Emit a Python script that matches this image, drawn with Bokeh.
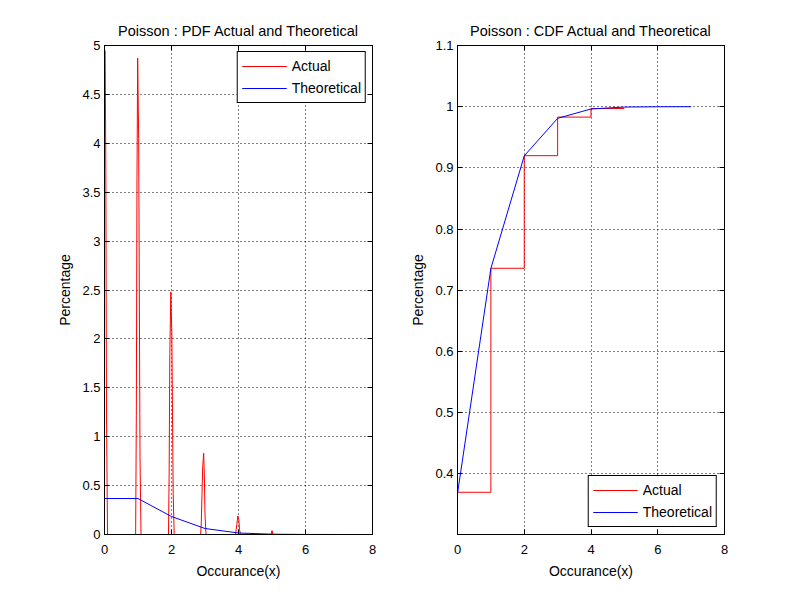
from bokeh.plotting import figure
from bokeh.models import LinearAxis, FixedTicker, Legend, LegendItem
from bokeh.layouts import row
from bokeh.embed import file_html
from bokeh.resources import INLINE

nan = float("nan")

# occurrences and theoretical poisson (lambda = 1) values
occ = [0, 1, 2, 3, 4, 5, 6, 7]
pdf_theory = [0.3679, 0.3679, 0.1839, 0.0613, 0.0153, 0.0031, 0.0005, 0.0001]
cdf_theory = [0.3679, 0.7358, 0.9197, 0.9810, 0.9963, 0.9994, 0.9999, 1.0]

# actual density (spikes around every integer)
pdf_x = [0.02, 0.04, 0.06, 0.09, nan,
         0.93, 0.95, 0.97, 0.99, 1.02, 1.04, 1.06, 1.09, nan,
         1.91, 1.93, 1.95, 1.98, 2.01, 2.03, 2.05, 2.08, nan,
         2.87, 2.89, 2.91, 2.93, 2.96, 2.98, 3.00, 3.03, nan,
         3.91, 3.93, 3.95, 3.98, 4.01, 4.03, 4.06, nan,
         4.97, 5.00, 5.03]
pdf_y = [4.95, 3.70, 1.22, 0.0, nan,
         0.0, 1.22, 3.65, 4.87, 4.05, 2.45, 0.80, 0.0, nan,
         0.0, 0.62, 1.85, 2.48, 2.05, 1.22, 0.42, 0.0, nan,
         0.0, 0.13, 0.41, 0.68, 0.83, 0.61, 0.20, 0.0, nan,
         0.0, 0.05, 0.10, 0.19, 0.15, 0.05, 0.0, nan,
         0.0, 0.04, 0.0]

# actual cdf (stairs)
cdf_x = [0, 1, 2, 3, 4, 5]
cdf_y = [0.37, 0.736, 0.92, 0.983, 0.997, 0.997]

x_ticks = [0, 2, 4, 6, 8]
pdf_ticks = [0, 0.5, 1, 1.5, 2, 2.5, 3, 3.5, 4, 4.5, 5]
cdf_ticks = [0.4, 0.5, 0.6, 0.7, 0.8, 0.9, 1.0, 1.1]

FONT = "Liberation Sans"


def style(p, yticks):
    p.title.text_font = FONT
    p.title.text_font_size = "14.5px"
    p.title.text_font_style = "normal"
    p.title.text_color = "black"
    p.title.align = "center"
    p.title.standoff = 13
    p.outline_line_color = "black"
    p.outline_line_alpha = 1
    p.background_fill_color = "white"
    p.border_fill_color = "white"
    for g in p.grid:
        g.grid_line_color = "black"
        g.grid_line_dash = "1 3"
        g.grid_line_width = 1
    p.xgrid.ticker = FixedTicker(ticks=x_ticks)
    p.ygrid.ticker = FixedTicker(ticks=yticks)
    p.xaxis.ticker = FixedTicker(ticks=x_ticks)
    p.yaxis.ticker = FixedTicker(ticks=yticks)
    p.yaxis.major_label_overrides = {t: "%g" % t for t in yticks}
    p.xaxis.major_label_overrides = {t: "%g" % t for t in x_ticks}
    for ax in [p.xaxis[0], p.yaxis[0]]:
        ax.axis_line_color = "black"
        ax.major_tick_line_color = "black"
        ax.major_tick_in = 5
        ax.major_tick_out = 0
        ax.minor_tick_line_color = None
        ax.major_label_text_font = FONT
        ax.major_label_text_font_size = "13px"
        ax.major_label_text_color = "black"
        ax.axis_label_text_font = FONT
        ax.axis_label_text_font_size = "14px"
        ax.axis_label_text_font_style = "normal"
        ax.axis_label_text_color = "black"
    p.xaxis.major_label_standoff = 10
    p.xaxis.axis_label_standoff = 6
    p.yaxis.major_label_standoff = 4
    p.yaxis.axis_label_standoff = 6
    # ticks on the top and right side like a box, no labels there
    top = LinearAxis(ticker=FixedTicker(ticks=x_ticks),
                     major_label_overrides={t: "" for t in x_ticks},
                     major_tick_in=5, major_tick_out=0, minor_tick_line_color=None,
                     axis_line_color="black", major_label_standoff=0)
    right = LinearAxis(ticker=FixedTicker(ticks=yticks),
                       major_label_overrides={t: "" for t in yticks},
                       major_tick_in=5, major_tick_out=0, minor_tick_line_color=None,
                       axis_line_color="black", major_label_standoff=0)
    p.add_layout(top, "above")
    p.add_layout(right, "right")


def legend(p, items, loc, margin):
    lg = Legend(items=items, location=loc)
    lg.margin = margin
    lg.padding = 4
    lg.spacing = 2
    lg.glyph_width = 45
    lg.glyph_height = 20
    lg.label_height = 20
    lg.label_standoff = 5
    lg.label_text_font = FONT
    lg.label_text_font_size = "14px"
    lg.label_text_color = "black"
    lg.border_line_color = "black"
    lg.border_line_width = 1
    lg.border_line_alpha = 1
    lg.background_fill_alpha = 1
    p.add_layout(lg, "center")


p1 = figure(width=392, height=584, x_range=(0, 8), y_range=(0, 5),
            title="Poisson : PDF Actual and Theoretical",
            x_axis_label="Occurance(x)", y_axis_label="Percentage",
            toolbar_location=None, output_backend="svg",
            min_border_left=104, min_border_right=20, min_border_top=45, min_border_bottom=50)
r1 = p1.line(pdf_x, pdf_y, line_color="red", line_width=1)
b1 = p1.line(occ, pdf_theory, line_color="blue", line_width=1)
style(p1, pdf_ticks)
legend(p1, [LegendItem(label="Actual", renderers=[r1]),
            LegendItem(label="Theoretical", renderers=[b1])], "top_right", 6)

p2 = figure(width=392, height=584, x_range=(0, 8), y_range=(0.301, 1.1),
            title="Poisson : CDF Actual and Theoretical",
            x_axis_label="Occurance(x)", y_axis_label="Percentage",
            toolbar_location=None, output_backend="svg",
            min_border_left=65, min_border_right=60, min_border_top=45, min_border_bottom=50)
r2 = p2.step(cdf_x, cdf_y, mode="after", line_color="red", line_width=1)
b2 = p2.line(occ, cdf_theory, line_color="blue", line_width=1)
style(p2, cdf_ticks)
legend(p2, [LegendItem(label="Actual", renderers=[r2]),
            LegendItem(label="Theoretical", renderers=[b2])], "bottom_right", 7)

layout = row(p1, p2)
open("out.html", "w").write(file_html(layout, INLINE))
